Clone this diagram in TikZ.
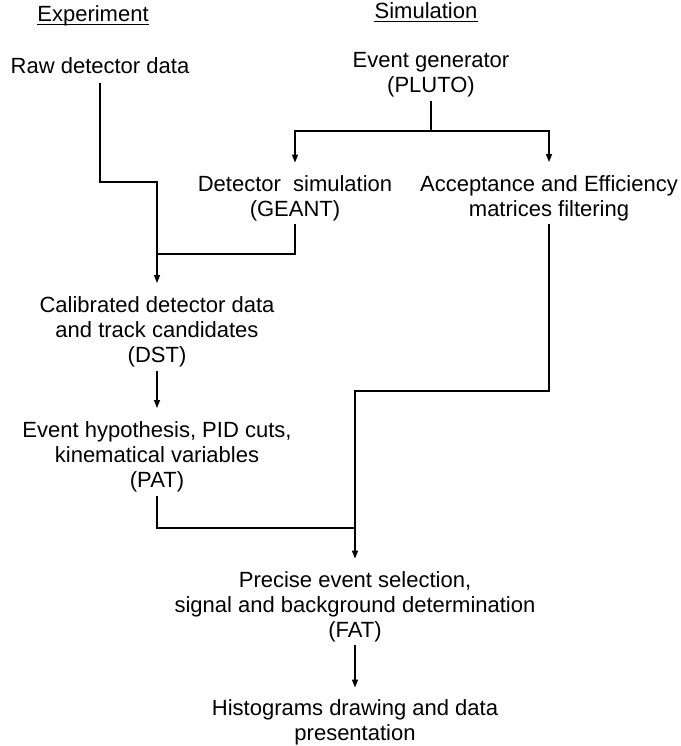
\documentclass[tikz,border=0pt]{standalone}
\usepackage{fontspec}
\setmainfont{Liberation Sans}
\usetikzlibrary{arrows.meta}
\begin{document}
\begin{tikzpicture}[x=1pt,y=-1pt,
  every node/.style={font=\fontsize{22}{25}\selectfont, align=center, inner sep=0pt},
  line/.style={line width=1.4pt},
  arr/.style={line, -{Triangle[length=8pt,width=6pt]}}]
\useasboundingbox (0,0) rectangle (680,746);
% headers
\node[anchor=base] (exp) at (93,22) {Experiment};
\node[anchor=base] (sim) at (426,19) {Simulation};
\draw[line width=1.1pt] ([yshift=-2.5pt]exp.base west) -- ([yshift=-2.5pt]exp.base east);
\draw[line width=1.1pt] ([yshift=-2.5pt]sim.base west) -- ([yshift=-2.5pt]sim.base east);
% nodes
\node[anchor=base] (raw) at (100,74) {Raw detector data};
\node (pluto) at (431,75) {Event generator\\(PLUTO)};
\node (geant) at (295,198.5) {Detector\ \ simulation\\(GEANT)};
\node (acc) at (549,198) {Acceptance and Efficiency\\matrices filtering};
\node (dst) at (157,331.5) {Calibrated detector data\\and track candidates\\(DST)};
\node (pat) at (157,456.5) {Event hypothesis, PID cuts,\\kinematical variables\\(PAT)};
\node (fat) at (355,607) {Precise event selection,\\signal and background determination\\(FAT)};
\node (hist) at (355,722.5) {Histograms drawing and data\\presentation};
% junctions
\coordinate (j1) at (157,182);
\coordinate (j2) at (157,254);
\coordinate (j3) at (431,131);
\coordinate (j4) at (355,528);
\coordinate (j5) at (355,391);
% connectors
\draw[arr, shorten <=9pt, shorten >=13pt] (raw.south) |- (j1) -- (dst.north);
\draw[line, shorten <=3pt] (geant.south) |- (j2);
\draw[line, shorten <=3pt] (pluto.south) -- (j3);
\draw[arr, shorten >=13pt] (j3) -| (geant.north);
\draw[arr, shorten >=13pt] (j3) -| (acc.north);
\draw[arr, shorten <=3pt, shorten >=13pt] (acc.south) |- (j5) -- (fat.north);
\draw[arr, shorten <=4pt, shorten >=13pt] (dst.south) -- (pat.north);
\draw[line, shorten <=4pt] (pat.south) |- (j4);
\draw[arr, shorten <=3pt, shorten >=12pt] (fat.south) -- (hist.north);
\end{tikzpicture}
\end{document}
